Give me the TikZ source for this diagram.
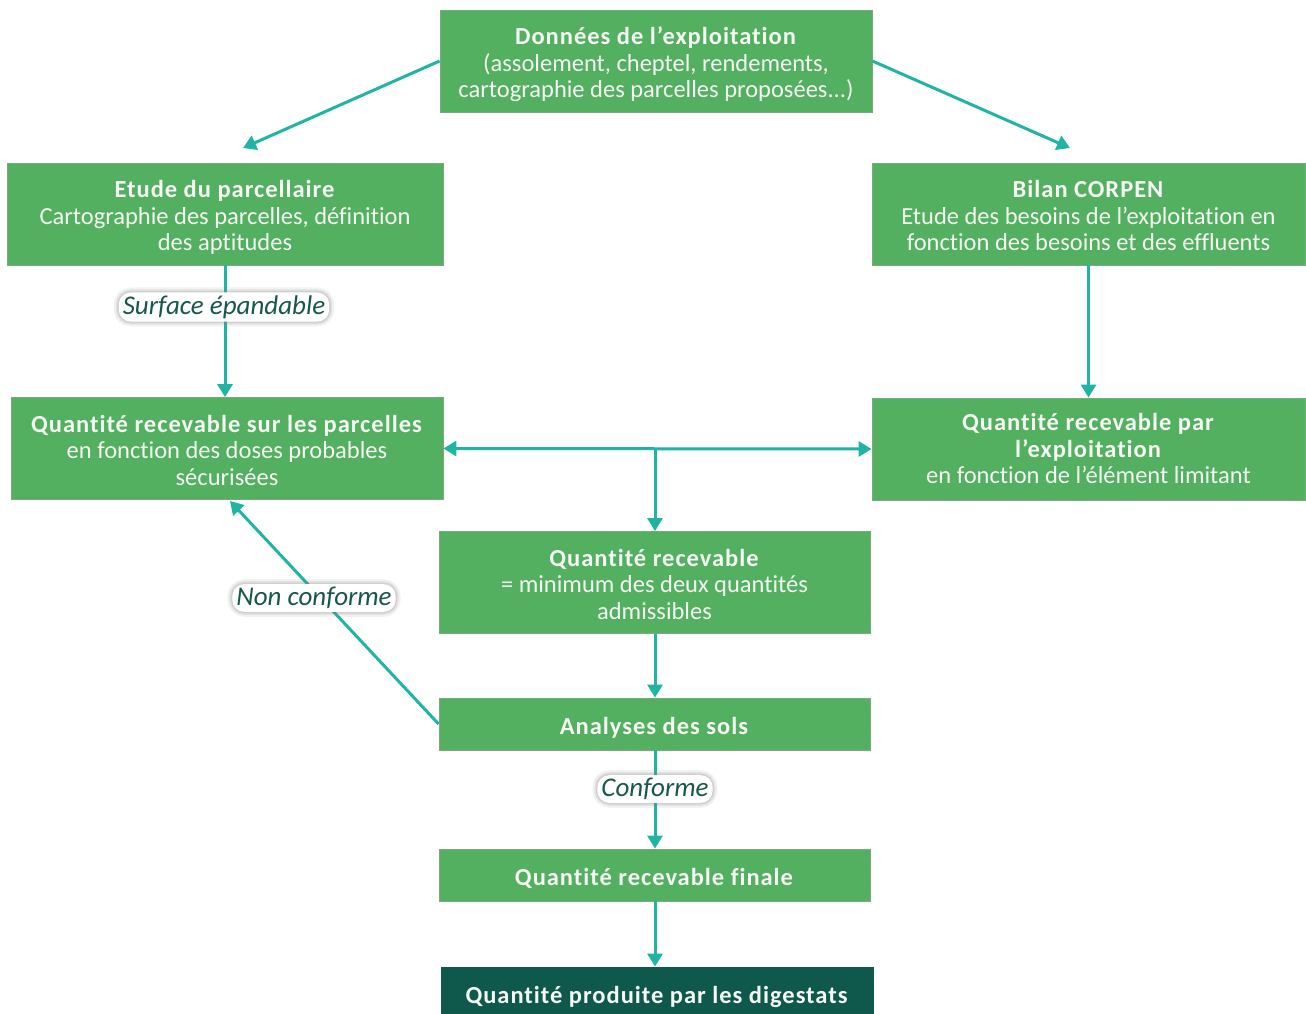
\documentclass[tikz,border=0pt]{standalone}
\usepackage{fontspec}
\setmainfont{Carlito}[Ligatures=NoCommon, BoldFeatures={LetterSpace=4}]
\usetikzlibrary{arrows.meta}
\definecolor{boxgreen}{RGB}{82,176,96}
\definecolor{boxedge}{RGB}{120,170,125}
\definecolor{darkbox}{RGB}{14,88,76}
\definecolor{arrowteal}{RGB}{32,180,165}
\definecolor{labeltext}{RGB}{24,88,76}
\definecolor{boxtext}{RGB}{246,248,244}
\newcommand{\boxlines}[2][-5pt]{\raisebox{#1}[\height][\depth]{\begin{tabular}{@{}c@{}}#2\end{tabular}}}
\tikzset{
  gbox/.style={draw=boxedge, line width=0.8pt, fill=boxgreen, text=boxtext, align=center,
    minimum width=432pt, minimum height=102pt, inner sep=0pt, font=\fontsize{24.5}{26.5}\selectfont},
  sbox/.style={gbox, minimum height=52pt},
  conn/.style={draw=arrowteal, line width=3pt, -{Triangle[width=15pt,length=13pt]}},
  dconn/.style={draw=arrowteal, line width=3pt, {Triangle[width=15pt,length=13pt]}-{Triangle[width=15pt,length=13pt]}},
  lbl/.style={rounded corners=12pt, text=labeltext, inner xsep=4pt, inner ysep=3pt,
    font=\fontsize{27}{30}\selectfont\itshape,
    preaction={draw=gray, draw opacity=0.10, line width=10pt},
    preaction={draw=gray, draw opacity=0.15, line width=6pt},
    preaction={draw=gray, draw opacity=0.18, line width=3pt},
    fill=white}
}
\begin{document}
\begin{tikzpicture}[x=1pt,y=-1pt]
\useasboundingbox (0,0) rectangle (1306,1014);
\node[gbox] (top) at (656,61) {\boxlines{\textbf{Données de l’exploitation}\\(assolement, cheptel, rendements,\\cartographie des parcelles proposées...)}};
\node[gbox, minimum width=436pt] (etude) at (225,214) {\boxlines{\textbf{Etude du parcellaire}\\Cartographie des parcelles, définition\\des aptitudes}};
\node[gbox, minimum width=433pt] (bilan) at (1088.5,214) {\boxlines{\textbf{Bilan CORPEN}\\Etude des besoins de l’exploitation en\\fonction des besoins et des effluents}};
\node[gbox] (parc) at (227,448.5) {\boxlines{\textbf{Quantité recevable sur les parcelles}\\en fonction des doses probables\\sécurisées}};
\node[gbox, minimum width=433pt] (expl) at (1088.5,449) {\boxlines[-3pt]{\textbf{Quantité recevable par}\\\textbf{l’exploitation}\\en fonction de l’élément limitant}};
\node[gbox, minimum width=431pt] (recev) at (654.5,582.5) {\boxlines{\textbf{Quantité recevable}\\= minimum des deux quantités\\admissibles}};
\node[sbox, minimum width=431pt] (anal) at (654.5,724) {\boxlines{\textbf{Analyses des sols}}};
\node[sbox, minimum width=431pt] (fin) at (654.5,875) {\boxlines{\textbf{Quantité recevable finale}}};
\node[sbox, fill=darkbox, draw=darkbox, minimum height=60pt] (prod) at (657,997) {\boxlines[-1pt]{\textbf{Quantité produite par les digestats}}};

\coordinate (tl) at (243,148);
\coordinate (tr) at (1070,148);
\coordinate (junc) at (655,449);
\coordinate (nc) at (230,501);

\draw[conn] (top.west) -- (tl);
\draw[conn] (top.east) -- (tr);
\draw[conn] (etude.south -| 225,0) -- (parc.north -| 225,0);
\draw[conn] (bilan.south) -- (expl.north);
\draw[dconn] (parc.east) -- (expl.west);
\draw[conn] (junc) -- (recev.north -| junc);
\draw[conn] (recev.south -| junc) -- (anal.north -| junc);
\draw[conn] (anal.west) -- (nc);
\draw[conn] (anal.south -| junc) -- (fin.north -| junc);
\draw[conn] (fin.south -| junc) -- (prod.north -| junc);

\node[lbl] (l1) at (224,307) {Surface épandable};
\node[lbl] (l2) at (314,598) {Non conforme};
\node[lbl] (l3) at (655,789) {Conforme};
\end{tikzpicture}
\end{document}
